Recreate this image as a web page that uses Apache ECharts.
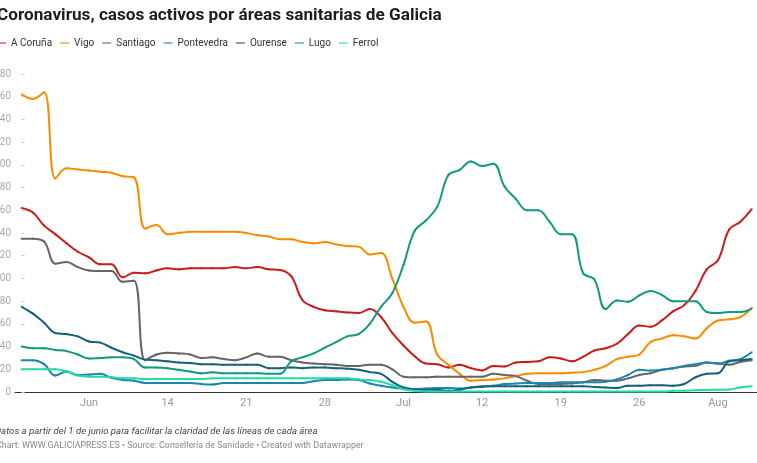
<!DOCTYPE html>
<html>
<head>
<meta charset="utf-8">
<script src="https://cdn.jsdelivr.net/npm/echarts@6/dist/echarts.min.js"></script>
<style>
html,body{margin:0;padding:0;background:#fff;}
#chart{width:757px;height:463px;}
</style>
</head>
<body>
<div id="chart"></div>
<script>
// Day index 0 = 1 June, 65 = 5 August
const seriesNames = ["A Coruña","Vigo","Santiago","Pontevedra","Ourense","Lugo","Ferrol"];
const seriesColors = ["#c71e1d","#fa8c00","#666666","#1d86b0","#15607a","#129a7f","#1fdcaa"];
const tickDays = [6,13,20,27,34,41,48,55,62];
const tickLabels = ["Jun","14","21","28","Jul","12","19","26","Aug"];

const aCoruna = [162,158,146.5,139,131,123.5,118.5,112.5,112.5,101,105,104.5,107,109,108,109,109,109,109,110,109,110,108,107.5,102,81,75,72,71,70,69.5,73,66,52,41,31.5,25,24.5,21.5,24,21,19,23,22.5,26,26.5,27,30.5,29.5,27,31,36.5,38.5,42.5,51,58.5,57.5,63,71,76.5,89,108,116,143,150,161];
const vigo = [262,258,264,188,197,196,195,194,193,190,189,144,147,139,140,141,141,141,141,141,140,138,137,134.5,134.5,132,131,132,130,128.5,128,121,122.5,100,75,61,62,33,24,16,10,10.5,11,12,14,16,16.5,16.5,16.5,17,17.5,19.5,23,29,31,33,44,47,50,49,47,56,63,64,66,74];
const santiago = [135,135,132.5,113,114.5,110,107,106.5,106.5,97,98,28,33,34.5,34,33,30,30.5,29,28,30.5,34,31,31,28,26,25,24.5,24,23,23,24,24,20,13.5,13,13,13.5,13.5,13.5,13.5,13.5,16,15,14,10,7,7,7,7.5,8.5,10.5,10,10,12,15,16.5,19.5,21,22.5,23,26,25,24,26.5,28];
const pontevedra = [28,28,24.5,14.5,18,15,15.5,16,12.5,10.5,10,8,8,8,8,8,7,6.5,8,8,8,8,8,8,8,8,9.5,10.5,10.5,11,10.5,7.5,5.5,4,3,2.5,3,3.5,3.5,3,4,5,5.5,7,7.5,8,8,8,8.5,8.5,8.5,8.5,9,11,15,19.5,19,19.5,21,23,24.5,26,25,27.5,29,35];
const ourense = [75,69,61,52,51,49,44.5,43.5,39,35,32,28.5,28,27,26,25.5,24.5,24.5,24,24,24,24,21,21,21.5,21,21.5,21.5,21,20.5,19.5,17.5,16,9,4,2.5,2,2,1,2,4,4.5,5,5,5,5,5,5,5,5,5,4.5,4,3.5,5.5,5.5,6,6,5.5,7,13,16,16.5,27,28,29];
const lugo = [40,38.5,38.5,37,36,33,29.5,30,30.5,30.5,29,21.5,21.5,21,19.5,18,16.5,17.5,16.5,16.5,16.5,16.5,16,16,27,30.5,34,39,44,49,51,60,75,87,112,142,151,163,191,195.5,203,199,201,181,170,160,160,150,139,139,104.5,99,73,80.5,79.5,85,89,85.5,80,80,80,70.5,69.5,70.5,70.5,73.5];
const ferrol = [20,20,20,20,18,14.5,13.5,13.5,13,12,12,11.5,11.5,11.5,11.5,11.5,11.5,12,12,12,12,12,12,12,12,12,12,12,12,12,11,10.5,9,6,2.5,1,0.5,0.5,0.5,0.5,0.5,0.5,0.5,0.5,0.5,0.5,0.5,0.5,0.5,0.5,0.5,0.5,0.5,0.5,0.5,0.5,0.5,0.5,1,1.2,1.5,1.8,2,2.3,4,5];

const allValues = [aCoruna, vigo, santiago, pontevedra, ourense, lugo, ferrol];

const chart = echarts.init(document.getElementById('chart'), null, {renderer:'canvas'});
const FONT = 'Roboto, "Noto Sans", sans-serif';

const series = allValues.map((vals, k) => ({
  name: seriesNames[k],
  type: 'line',
  data: vals.map((v, i) => [i, v]),
  smooth: 0.4,
  showSymbol: true,
  symbol: 'circle',
  symbolSize: 2.5,
  itemStyle: { color: seriesColors[k], borderWidth: 0, opacity: 0.55 },
  lineStyle: { width: 2, color: seriesColors[k] },
  emphasis: { disabled: true },
  animation: false
}));

chart.setOption({
  animation: false,
  color: seriesColors,
  textStyle: { fontFamily: FONT },
  grid: { left: 15, right: 0, top: 74, bottom: 71, containLabel: false, outerBoundsMode: 'none' },
  legend: {
    data: seriesNames,
    left: -3, top: 38,
    icon: 'rect', itemWidth: 9, itemHeight: 2, itemGap: 8,
    padding: 0,
    selectedMode: false,
    textStyle: { fontSize: 10, color: '#333', fontFamily: FONT }
  },
  xAxis: {
    type: 'value',
    min: -0.59, max: 65.48,
    axisLine: { show: true, lineStyle: { color: '#333', width: 1 } },
    axisTick: { show: false },
    splitLine: { show: false },
    axisLabel: {
      customValues: tickDays,
      formatter: v => tickLabels[tickDays.indexOf(v)] || '',
      color: '#999', fontSize: 11, margin: 6, fontFamily: FONT
    }
  },
  yAxis: {
    type: 'value',
    min: 0, max: 280, interval: 20,
    axisLine: { show: false },
    axisTick: { show: true, inside: true, length: 3, lineStyle: { color: '#ccc' } },
    splitLine: { show: false },
    axisLabel: { color: '#aaa', fontSize: 10, margin: 4, fontFamily: FONT }
  },
  graphic: [
    { type: 'text', x: -3, y: 7, style: { text: 'Coronavirus, casos activos por áreas sanitarias de Galicia', font: 'bold 17.2px ' + FONT, fill: '#1d1d1d' } },
    { type: 'text', x: -5, y: 427, style: { text: 'Datos a partir del 1 de junio para facilitar la claridad de las líneas de cada área', font: 'italic 9.6px ' + FONT, fill: '#444' } },
    { type: 'text', x: -4, y: 441, style: { text: 'Chart: WWW.GALICIAPRESS.ES • Source: Consellería de Sanidade • Created with Datawrapper', font: '8.9px ' + FONT, fill: '#888' } }
  ],
  series: series
});
</script>
</body>
</html>
